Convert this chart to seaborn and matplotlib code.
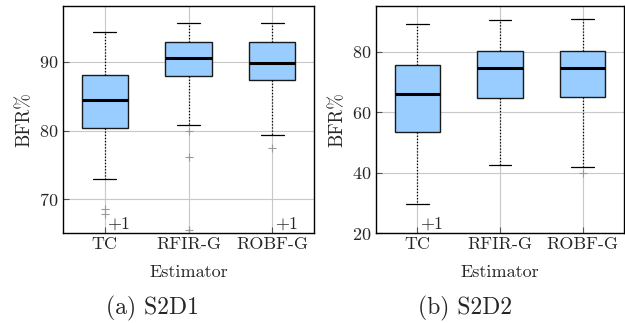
import numpy as np
import pandas as pd
import matplotlib
matplotlib.use("Agg")
import matplotlib.pyplot as plt
import seaborn as sns

estimators = ["TC", "RFIR-G", "ROBF-G"]

# S2D1 five-number summaries (lower whisker, Q1, median, Q3, upper whisker)
s2d1_lw = [72.9, 80.78, 79.28]
s2d1_q1 = [80.4, 87.88, 87.3]
s2d1_med = [84.4, 90.54, 89.77]
s2d1_q3 = [88.1, 92.86, 92.86]
s2d1_uw = [94.3, 95.65, 95.65]
s2d1_out = [[68.6, 67.8, 60.0], [80.0, 76.2, 65.6], [77.5, 60.0]]
s2d1_hidden = [1, 0, 1]

# S2D2
s2d2_lw = [29.7, 42.55, 41.9]
s2d2_q1 = [53.5, 64.5, 64.9]
s2d2_med = [66.1, 74.46, 74.7]
s2d2_q3 = [75.6, 80.1, 80.3]
s2d2_uw = [89.15, 90.47, 90.9]
s2d2_out = [[15.0], [], [39.7]]
s2d2_hidden = [1, 0, 0]


def build(lw, q1, med, q3, uw, outs):
    rows = []
    m = 20
    for i, name in enumerate(estimators):
        vals = list(outs[i]) + [lw[i]] + [q1[i]] * m + [med[i]] * m + [q3[i]] * m + [uw[i]]
        rows += [(name, v) for v in vals]
    return pd.DataFrame(rows, columns=["Estimator", "BFR"])


sns.set_style("ticks")
plt.rcParams["font.family"] = ["cmr10", "DejaVu Serif"]
plt.rcParams["mathtext.fontset"] = "cm"
plt.rcParams["axes.formatter.use_mathtext"] = True

fig = plt.figure(figsize=(6.25, 3.23), dpi=100)
ax1 = fig.add_axes([63 / 625, 1 - 233 / 323, 251 / 625, 227 / 323])
ax2 = fig.add_axes([376 / 625, 1 - 233 / 323, 248 / 625, 227 / 323])

specs = [
    (ax1, build(s2d1_lw, s2d1_q1, s2d1_med, s2d1_q3, s2d1_uw, s2d1_out), (65.1, 98.1), [70, 80, 90], s2d1_hidden),
    (ax2, build(s2d2_lw, s2d2_q1, s2d2_med, s2d2_q3, s2d2_uw, s2d2_out), (20, 95.1), [20, 40, 60, 80], s2d2_hidden),
]

for ax, df, ylim, yticks, hidden in specs:
    sns.boxplot(
        data=df, x="Estimator", y="BFR", order=estimators, ax=ax,
        color="#99ccff", saturation=1, width=0.55, whis=1.5,
        boxprops=dict(facecolor="#99ccff", edgecolor="#1a1a1a", linewidth=1.0),
        medianprops=dict(color="black", linewidth=2.2),
        whiskerprops=dict(color="black", linewidth=0.9, linestyle=(0, (1, 1.5))),
        capprops=dict(color="black", linewidth=0.9),
        flierprops=dict(marker="+", markeredgecolor="#999999", markersize=6, markeredgewidth=0.8),
    )
    ax.set_axisbelow(True)
    ax.grid(True, axis="both", color="#c8c8c8", linewidth=0.8)
    ax.set_xlim(-0.5, 2.5)
    ax.set_ylim(*ylim)
    ax.set_yticks(yticks)
    ax.set_xlabel("Estimator", fontsize=13, labelpad=9)
    ax.set_ylabel("BFR%", fontsize=13.5, labelpad=4)
    ax.tick_params(direction="in", length=4, color="#555555", labelsize=13, pad=3)
    for s in ax.spines.values():
        s.set_visible(True)
        s.set_color("black")
        s.set_linewidth(1.0)
    for i, h in enumerate(hidden):
        if h:
            ax.text(i + 0.03, ylim[0] + (ylim[1] - ylim[0]) * 0.005, "+%d" % h,
                    fontsize=13, ha="left", va="bottom")

fig.text(152 / 625, 1 - 308 / 323, "(a) S2D1", fontsize=17, ha="center", va="center")
fig.text(465 / 625, 1 - 308 / 323, "(b) S2D2", fontsize=17, ha="center", va="center")

fig.savefig("out.png", dpi=100)
